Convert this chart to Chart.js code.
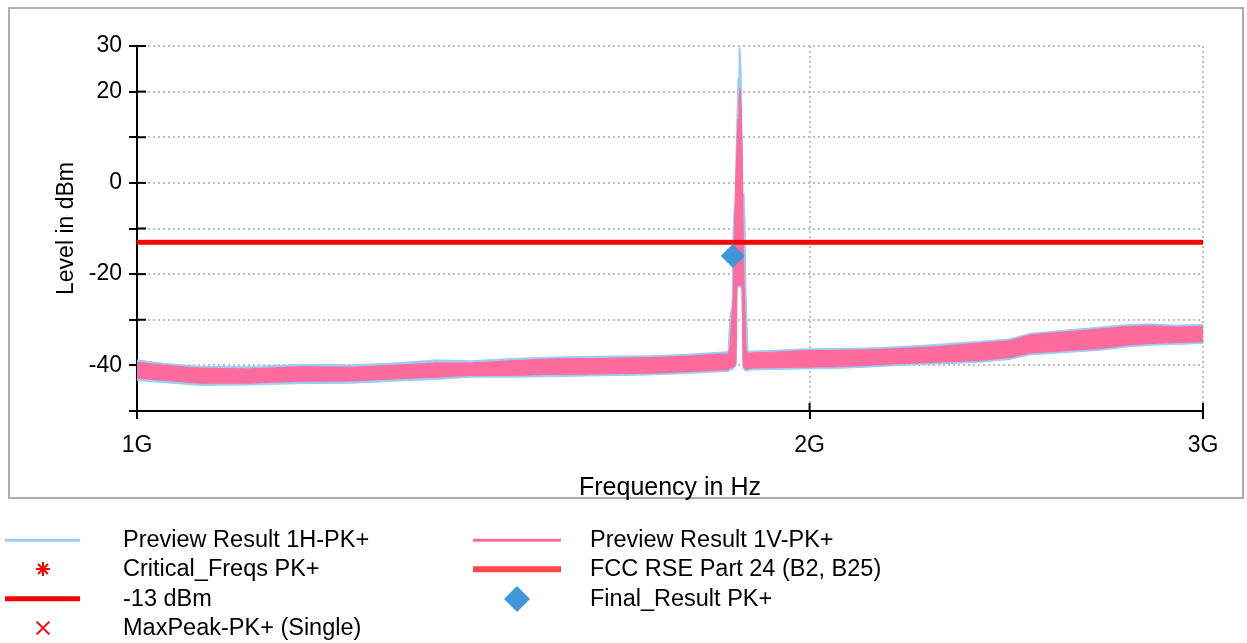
<!DOCTYPE html>
<html>
<head>
<meta charset="utf-8">
<title>Level vs Frequency</title>
<script src="https://cdn.jsdelivr.net/npm/chart.js@4.4.1/dist/chart.umd.min.js"></script>
<style>
  body { margin: 0; background: #fff; font-family: "Liberation Sans", Arial, sans-serif; }
  #wrap { position: relative; width: 1247px; height: 643px; overflow: hidden; }
  #frame { position: absolute; left: 8px; top: 7px; width: 1232px; height: 488px; border: 2px solid #adadad; }
  #myChart { position: absolute; left: 0; top: 0; }
  #legend { position: absolute; left: 0; top: 0; width: 1247px; height: 643px; }
  .lg-text { position: absolute; font-size: 23.5px; line-height: 1; color: #000; white-space: nowrap; transform: translateY(-50%); }
  .lg-line { position: absolute; transform: translateY(-50%); }
  .lg-pt { position: absolute; }
</style>
</head>
<body>
<div id="wrap">
  <div id="frame"></div>
  <canvas id="myChart" width="1247" height="505"></canvas>
  <div id="legend"></div>
</div>
<script>
// frequency in GHz
const freqGHz = [1.000, 1.030, 1.067, 1.120, 1.183, 1.250, 1.311, 1.360, 1.410, 1.470, 1.530, 1.600, 1.696, 1.760, 1.823, 1.8387,
  1.8425, 1.8464, 1.8483, 1.8502, 1.8521, 1.8540, 1.8559, 1.8578, 1.8597, 1.8617, 1.8636, 1.8655, 1.8674, 1.8694, 1.8713, 1.8732, 1.8771, 1.881,
  1.930, 1.980, 2.050, 2.120, 2.196, 2.280, 2.385, 2.458, 2.510, 2.600, 2.698, 2.770, 2.841, 2.920, 3.000]

// Preview Result 1H-PK+ (band top / bottom, dBm)
const hUpper = [-38.8, -39.6, -40.2, -40.3, -39.8, -39.9, -39.4, -38.8, -39.0, -38.5, -38.2, -38.0, -37.9, -37.6, -37.1, -37.0,
  -29.0, -27.0, -10.0, -6.0, -5.0, 6.0, 15.0, 23.0, 29.6, 29.6, 25.0, 12.0, -2.5, -2.2, -8.0, -24.0, -37.0, -36.9,
  -36.7, -36.4, -36.3, -36.2, -35.9, -35.4, -34.7, -34.2, -33.0, -32.3, -31.6, -31.1, -30.9, -31.2, -31.0]
const hLower = [-43.3, -43.8, -44.4, -44.3, -44.0, -43.9, -43.4, -43.1, -42.6, -42.6, -42.5, -42.3, -42.1, -41.8, -41.4, -41.4,
  -41.0, -41.0, -40.8, -40.6, -40.4, -40.0, -23.0, -22.8, -22.8, -22.8, -23.0, -23.2, -40.4, -41.0, -41.2, -41.2, -41.2, -41.0,
  -40.9, -40.8, -40.7, -40.4, -40.0, -39.7, -39.3, -38.7, -37.7, -37.2, -36.7, -36.0, -35.6, -35.4, -35.2]

// Preview Result 1V-PK+
const vUpper = [-39.3, -40.0, -40.6, -40.8, -40.3, -40.4, -39.9, -39.5, -39.5, -39.0, -38.6, -38.5, -38.3, -38.0, -37.5, -37.6,
  -36.0, -29.0, -26.0, -18.0, -5.0, 2.0, 8.0, 14.0, 18.0, 20.8, 17.0, 8.0, -8.0, -22.0, -29.0, -36.5, -37.5, -37.3,
  -37.1, -36.8, -36.7, -36.6, -36.3, -35.9, -35.1, -34.6, -33.3, -32.7, -32.0, -31.5, -31.3, -31.6, -31.5]
const vLower = [-42.8, -43.3, -43.9, -43.9, -43.5, -43.4, -42.9, -42.6, -42.2, -42.2, -42.0, -41.9, -41.7, -41.4, -41.0, -41.0,
  -40.5, -40.5, -40.3, -40.2, -40.0, -39.5, -22.5, -22.4, -22.4, -22.4, -22.5, -22.8, -40.0, -40.5, -40.8, -40.8, -40.8, -40.6,
  -40.5, -40.4, -40.3, -40.0, -39.6, -39.3, -38.9, -38.3, -37.3, -36.8, -36.3, -35.6, -35.2, -35.0, -34.8]

const limitFreq = [1, 3]
const limitLevel = [-13, -13]
const finalFreq = [1.848]
const finalLevel = [-16.0]
const criticalFreq = []
const criticalLevel = []
const maxPeakFreq = []
const maxPeakLevel = []

const xTicks = [1, 2, 3]
const yTickLabels = [30, 20, 0, -20, -40]

const blue = '#9ccbf5'
const pink = '#ff6b9c'

const toPts = (xs, ys) => xs.map((x, i) => ({ x: x, y: ys[i] }))

const crossTicks = {
  id: 'crossTicks',
  beforeDatasetsDraw(chart) {
    const { ctx, chartArea, scales } = chart
    ctx.save()
    ctx.strokeStyle = '#000'
    ctx.lineWidth = 2
    scales.y.ticks.forEach(t => {
      const py = scales.y.getPixelForValue(t.value)
      ctx.beginPath(); ctx.moveTo(chartArea.left, py); ctx.lineTo(chartArea.left + 9, py); ctx.stroke()
    })
    scales.x.ticks.forEach(t => {
      const px = scales.x.getPixelForValue(t.value)
      ctx.beginPath(); ctx.moveTo(px, chartArea.bottom); ctx.lineTo(px, chartArea.bottom - 8); ctx.stroke()
    })
    ctx.restore()
  }
}

const htmlLegend = {
  id: 'htmlLegend',
  afterUpdate(chart) {
    const box = document.getElementById('legend')
    box.innerHTML = ''
    const items = chart.data.datasets.filter(d => d.legendKind)
    const sampleLeft = [5, 473], sampleWidth = [75, 88], textLeft = [123, 590]
    items.forEach((d, i) => {
      const col = i % 2
      const cy = 540 + Math.floor(i / 2) * 29.3
      if (d.legendKind === 'line') {
        const ln = document.createElement('div')
        ln.className = 'lg-line'
        ln.style.left = sampleLeft[col] + 'px'
        ln.style.top = cy + 'px'
        ln.style.width = sampleWidth[col] + 'px'
        ln.style.height = d.legendWidth + 'px'
        ln.style.background = d.borderColor
        box.appendChild(ln)
      } else {
        const c = document.createElement('canvas')
        c.width = 40; c.height = 40
        c.className = 'lg-pt'
        c.style.left = (sampleLeft[col] + sampleWidth[col] / 2 - 20) + 'px'
        c.style.top = (cy - 20) + 'px'
        const g = c.getContext('2d')
        g.fillStyle = d.backgroundColor
        g.strokeStyle = d.borderColor
        g.lineWidth = d.legendKind === 'rectRot' ? 1 : 2
        Chart.helpers.drawPoint(g, { pointStyle: d.legendKind, radius: d.legendRadius, rotation: 0, borderWidth: g.lineWidth }, 20, 20)
        box.appendChild(c)
      }
      const tx = document.createElement('div')
      tx.className = 'lg-text'
      tx.style.left = textLeft[col] + 'px'
      tx.style.top = cy + 'px'
      tx.textContent = d.label
      box.appendChild(tx)
    })
  }
}

const font = { family: '"Liberation Sans", Arial, sans-serif', size: 23 }

const datasets = [
  { label: 'Preview Result 1H-PK+', data: toPts(freqGHz, hLower), borderColor: blue, borderWidth: 1, pointRadius: 0, fill: false, order: 5 },
  { label: 'Preview Result 1H-PK+', data: toPts(freqGHz, hUpper), borderColor: blue, backgroundColor: blue, borderWidth: 1, pointRadius: 0, fill: 0, order: 5, legendKind: 'line', legendWidth: 2.5 },
  { label: 'Preview Result 1V-PK+', data: toPts(freqGHz, vLower), borderColor: pink, borderWidth: 1, pointRadius: 0, fill: false, order: 4 },
  { label: 'Preview Result 1V-PK+', data: toPts(freqGHz, vUpper), borderColor: pink, backgroundColor: pink, borderWidth: 1, pointRadius: 0, fill: 2, order: 4, legendKind: 'line', legendWidth: 2.5 },
  { label: 'Critical_Freqs PK+', data: toPts(criticalFreq, criticalLevel), showLine: false, pointStyle: 'star', borderColor: '#ff0000', backgroundColor: '#ff0000', order: 1, legendKind: 'star', legendRadius: 7 },
  { label: 'FCC RSE Part 24 (B2, B25)', data: toPts(limitFreq, limitLevel), borderColor: '#ff4848', borderWidth: 5, pointRadius: 0, fill: false, order: 3, legendKind: 'line', legendWidth: 5.5 },
  { label: '-13 dBm', data: toPts(limitFreq, limitLevel), borderColor: '#ff0000', borderWidth: 4.5, pointRadius: 0, fill: false, order: 2, legendKind: 'line', legendWidth: 5.5 },
  { label: 'Final_Result PK+', data: toPts(finalFreq, finalLevel), showLine: false, pointStyle: 'rectRot', pointRadius: 11.5, borderWidth: 1, borderColor: '#3f97da', backgroundColor: '#3f97da', order: 0, legendKind: 'rectRot', legendRadius: 12.5 },
  { label: 'MaxPeak-PK+ (Single)', data: toPts(maxPeakFreq, maxPeakLevel), showLine: false, pointStyle: 'crossRot', borderColor: '#ff0000', backgroundColor: '#ff0000', order: 1, legendKind: 'crossRot', legendRadius: 9 }
]

const config = {
  type: 'line',
  data: { datasets },
  options: {
    responsive: false,
    animation: false,
    devicePixelRatio: 1,
    events: [],
    elements: { line: { tension: 0 } },
    layout: { padding: { left: 0, right: 44, top: 46, bottom: 0 } },
    plugins: { legend: { display: false }, tooltip: { enabled: false } },
    scales: {
      x: {
        type: 'logarithmic',
        min: 1, max: 3,
        afterBuildTicks: s => { s.ticks = xTicks.map(v => ({ value: v })) },
        afterFit: s => { s.height = 94 },
        ticks: { autoSkip: false, maxRotation: 0, padding: 13, color: '#000', font, callback: v => v + 'G' },
        grid: { color: '#bdbdbd', lineWidth: 2, tickLength: 8, tickColor: '#000', tickWidth: 2, tickBorderDash: [] },
        border: { color: '#000', width: 2, dash: [2, 3] },
        title: { display: true, text: 'Frequency in Hz', color: '#000', font: { family: font.family, size: 25 }, padding: { top: 0, bottom: 2 } }
      },
      y: {
        min: -50, max: 30,
        afterFit: s => { s.width = 137 },
        ticks: { stepSize: 10, autoSkip: false, padding: 7, color: '#000', font, callback: v => yTickLabels.includes(v) ? String(v) : '' },
        grid: { color: '#bdbdbd', lineWidth: 2, tickLength: 8, tickColor: '#000', tickWidth: 2, tickBorderDash: [] },
        border: { color: '#000', width: 2, dash: [2, 3] },
        title: { display: true, text: 'Level in dBm', color: '#000', font: { family: font.family, size: 23 }, padding: { top: 53, bottom: 0 } }
      }
    }
  },
  plugins: [crossTicks, htmlLegend]
}

const myCanvaChart = new Chart(document.getElementById('myChart'), config)
</script>
</body>
</html>
